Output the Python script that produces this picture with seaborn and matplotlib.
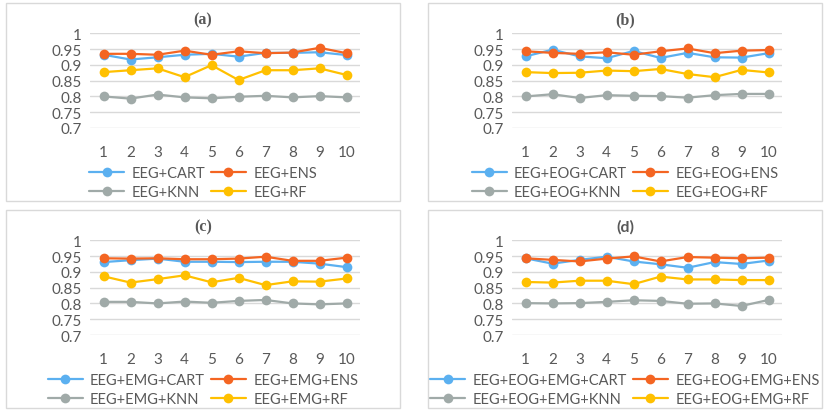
import seaborn as sns
import matplotlib.pyplot as plt
import matplotlib.patches as mpatches
import pandas as pd

# datos
runs = list(range(1, 11))

a_cart = [0.932, 0.917, 0.924, 0.932, 0.935, 0.926, 0.938, 0.938, 0.940, 0.931]
a_ens = [0.935, 0.935, 0.932, 0.945, 0.932, 0.943, 0.937, 0.939, 0.954, 0.937]
a_knn = [0.800, 0.793, 0.806, 0.797, 0.794, 0.799, 0.802, 0.797, 0.801, 0.797]
a_rf = [0.877, 0.883, 0.889, 0.861, 0.899, 0.852, 0.883, 0.883, 0.889, 0.868]

b_cart = [0.927, 0.948, 0.927, 0.921, 0.944, 0.922, 0.938, 0.924, 0.923, 0.937]
b_ens = [0.943, 0.938, 0.935, 0.940, 0.932, 0.943, 0.952, 0.937, 0.945, 0.947]
b_knn = [0.800, 0.807, 0.795, 0.804, 0.802, 0.801, 0.796, 0.804, 0.808, 0.808]
b_rf = [0.877, 0.874, 0.875, 0.882, 0.880, 0.887, 0.871, 0.861, 0.884, 0.876]

c_cart = [0.931, 0.937, 0.942, 0.932, 0.932, 0.931, 0.932, 0.932, 0.926, 0.915]
c_ens = [0.943, 0.942, 0.943, 0.940, 0.940, 0.942, 0.948, 0.935, 0.935, 0.945]
c_knn = [0.805, 0.805, 0.800, 0.806, 0.802, 0.808, 0.811, 0.800, 0.797, 0.800]
c_rf = [0.886, 0.866, 0.877, 0.889, 0.867, 0.881, 0.858, 0.870, 0.869, 0.879]

d_cart = [0.943, 0.926, 0.938, 0.948, 0.933, 0.924, 0.913, 0.931, 0.925, 0.936]
d_ens = [0.943, 0.938, 0.933, 0.942, 0.949, 0.933, 0.947, 0.945, 0.943, 0.945]
d_knn = [0.801, 0.800, 0.801, 0.805, 0.810, 0.808, 0.799, 0.800, 0.792, 0.811]
d_rf = [0.868, 0.866, 0.872, 0.872, 0.861, 0.885, 0.876, 0.876, 0.874, 0.874]

prefixes = ['EEG', 'EEG+EOG', 'EEG+EMG', 'EEG+EOG+EMG']
titles = ['(a)', '(b)', '(c)', '(d)']
models = ['CART', 'ENS', 'KNN', 'RF']
colores = ['#5BB0F0', '#F46522', '#A0AAA8', '#FFC000']
yticks = [0.7, 0.75, 0.8, 0.85, 0.9, 0.95, 1]

paneles = [
    [a_cart, a_ens, a_knn, a_rf],
    [b_cart, b_ens, b_knn, b_rf],
    [c_cart, c_ens, c_knn, c_rf],
    [d_cart, d_ens, d_knn, d_rf],
]

sns.set_style('white')
plt.rcParams['font.family'] = ['Lato', 'DejaVu Sans']
gris = '#595959'

fig = plt.figure(figsize=(8.31, 4.14), dpi=100)

# posiciones de los paneles en pixeles (izq, arriba, der, abajo)
cajas = [(6, 4, 400, 202), (428, 4, 822, 202), (6, 211, 400, 409), (428, 211, 822, 409)]
ejes = [(90, 34.3, 360, 129), (512, 34.3, 782, 129), (90, 241.3, 360, 336), (512, 241.3, 782, 336)]
W, H = 831, 414

for i in range(4):
    x0, y0, x1, y1 = cajas[i]
    fig.patches.append(mpatches.Rectangle((x0 / W, 1 - y1 / H), (x1 - x0) / W, (y1 - y0) / H,
                                          transform=fig.transFigure, fill=False,
                                          edgecolor='#D9D9D9', linewidth=1))
    ex0, ey0, ex1, ey1 = ejes[i]
    ax = fig.add_axes([ex0 / W, 1 - ey1 / H, (ex1 - ex0) / W, (ey1 - ey0) / H])

    etiquetas = [prefixes[i] + '+' + m for m in models]
    filas = []
    for lab, vals in zip(etiquetas, paneles[i]):
        for r, v in zip(runs, vals):
            filas.append({'run': r, 'acc': v, 'modelo': lab})
    df = pd.DataFrame(filas)

    sns.lineplot(data=df, x='run', y='acc', hue='modelo', hue_order=etiquetas,
                 palette=colores, marker='o', markersize=7, markeredgewidth=0,
                 linewidth=1.6, ax=ax)

    ax.set_xlim(0.5, 10.5)
    ax.set_ylim(0.7, 1.0)
    ax.set_yticks(yticks)
    ax.set_yticklabels(['{:g}'.format(t) for t in yticks])
    ax.set_xticks(runs)
    ax.set_xlabel('')
    ax.set_ylabel('')
    ax.grid(axis='y', color='#D9D9D9', linewidth=1)
    ax.grid(axis='x', visible=False)
    for s in ax.spines.values():
        s.set_visible(False)
    ax.tick_params(length=0, labelsize=11, labelcolor=gris)
    ax.tick_params(axis='x', pad=12)
    ax.tick_params(axis='y', pad=6)

    handles, labels = ax.get_legend_handles_labels()
    ax.get_legend().remove()
    # orden por filas como en la leyenda original
    orden = [0, 2, 1, 3]
    handles = [handles[k] for k in orden]
    labels = [labels[k] for k in orden]
    cx = (x0 + x1) / 2 / W
    fig.legend(handles, labels, loc='upper center', bbox_to_anchor=(cx, 1 - (y0 + 156) / H),
               ncol=2, frameon=False, fontsize=10.5, labelcolor=gris, handlelength=2.4,
               handletextpad=0.5, columnspacing=0.4, labelspacing=0.35, borderpad=0)

    if i < 3:
        fig.text(cx, 1 - (y0 + 16) / H, titles[i], ha='center', va='center', fontsize=11.5,
                 fontweight='bold', color=gris, family='Liberation Serif')
    else:
        fig.text(cx, 1 - (y0 + 16) / H, titles[i], ha='center', va='center', fontsize=11.5,
                 fontweight='bold', color=gris)

plt.savefig('out.png', dpi=100)
